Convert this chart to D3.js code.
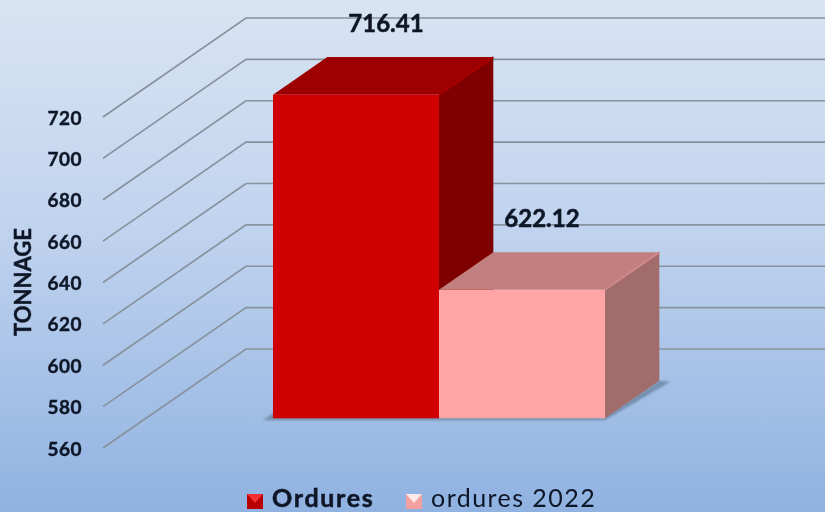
<!DOCTYPE html>
<html>
<head>
<meta charset="utf-8">
<script src="https://cdn.jsdelivr.net/npm/d3@7"></script>
<style>
html, body { margin: 0; padding: 0; overflow: hidden; }
</style>
</head>
<body>
<script>
// data
var seriesNames = ["Ordures", "ordures 2022"];
var seriesValues = [716.41, 622.12];
var tickValues = [560, 580, 600, 620, 640, 660, 680, 700, 720];
var frontColors = ["#d10000", "#ffa5a5"];
var topColors = ["#9d0000", "#c27f7f"];
var sideColors = ["#7f0000", "#a26c6c"];
var edgeColors = ["#a80000", "#d08a8a"];
var legendLight = ["#f23030", "#ffe8e8"];
var legendDark = ["#b80000", "#f4a0a0"];

var width = 825, height = 512;
var inkColor = "#0d1626";

var svg = d3.select("body").append("svg")
    .attr("width", width)
    .attr("height", height)
    .style("display", "block");

var defs = svg.append("defs");

var bg = defs.append("linearGradient").attr("id", "bg")
    .attr("x1", 0).attr("y1", 0).attr("x2", 0).attr("y2", 1);
bg.append("stop").attr("offset", "0%").attr("stop-color", "#d8e4f3");
bg.append("stop").attr("offset", "45%").attr("stop-color", "#c0d3ee");
bg.append("stop").attr("offset", "100%").attr("stop-color", "#90b2e1");

defs.append("filter").attr("id", "soft")
    .append("feGaussianBlur").attr("stdDeviation", 0.5);
defs.append("filter").attr("id", "softText")
    .append("feGaussianBlur").attr("stdDeviation", 0.35);
defs.append("filter").attr("id", "shadowBlur")
    .append("feGaussianBlur").attr("stdDeviation", 1.2);

svg.append("rect")
    .attr("width", width)
    .attr("height", height)
    .attr("fill", "url(#bg)");

// value scale is drawn on the front plane of the walls
var yScale = d3.scaleLinear().domain([560, 720]).range([448, 117]);
var wallDx = 143, wallDy = -99;     // depth of the floor
var wallLeft = 103;

// bars stand on a plane inside the depth
var depthStart = 0.30, depthEnd = 0.68;
var xScale = d3.scaleBand().domain(seriesNames).range([273, 605]).padding(0);

function shiftY(v, depth) { return yScale(v) + wallDy * depth; }
function shiftX(x, depth) { return x + wallDx * (depth - depthStart); }

// gridlines
var plot = svg.append("g").attr("filter", "url(#soft)");

plot.selectAll("path.grid")
    .data(tickValues).enter()
    .append("path")
    .attr("class", "grid")
    .attr("d", function(d) {
        var y = yScale(d);
        return "M" + wallLeft + "," + y + "L" + (wallLeft + wallDx) + "," + (y + wallDy) + "L" + width + "," + (y + wallDy);
    })
    .attr("fill", "none")
    .attr("stroke", "#87929e")
    .attr("stroke-width", 1.7);

// floor shadow under the bars
var x0 = xScale(seriesNames[0]) - 10;
var x1 = xScale(seriesNames[1]) + xScale.bandwidth();
var base = shiftY(560, depthStart);
plot.append("path")
    .attr("d", "M" + x0 + "," + (base + 2) + "L" + x1 + "," + (base + 2) +
        "L" + (x1 + (depthEnd - depthStart) * wallDx + 11) + "," + (base + (depthEnd - depthStart) * wallDy + 1) +
        "L" + (x1 + (depthEnd - depthStart) * wallDx) + "," + (base + (depthEnd - depthStart) * wallDy) +
        "L" + x1 + "," + (base - 2) + "L" + (x0 + 10) + "," + (base - 5) + "Z")
    .attr("fill", "#7690ae")
    .attr("filter", "url(#shadowBlur)");

// bars: top and side first, then the front
function poly(pts) { return pts.map(function(p) { return p.join(","); }).join(" "); }

var bars = plot.selectAll("g.bar")
    .data(seriesValues).enter()
    .append("g")
    .attr("class", "bar");

bars.append("polygon")
    .attr("points", function(d, i) {
        var a = xScale(seriesNames[i]), b = a + xScale.bandwidth();
        return poly([
            [shiftX(a, depthStart), shiftY(d, depthStart)],
            [shiftX(b, depthStart), shiftY(d, depthStart)],
            [shiftX(b, depthEnd), shiftY(d, depthEnd)],
            [shiftX(a, depthEnd), shiftY(d, depthEnd)]
        ]);
    })
    .attr("fill", function(d, i) { return topColors[i]; });

bars.append("polygon")
    .attr("points", function(d, i) {
        var b = xScale(seriesNames[i]) + xScale.bandwidth();
        return poly([
            [shiftX(b, depthStart), shiftY(d, depthStart)],
            [shiftX(b, depthEnd), shiftY(d, depthEnd)],
            [shiftX(b, depthEnd), shiftY(560, depthEnd)],
            [shiftX(b, depthStart), shiftY(560, depthStart)]
        ]);
    })
    .attr("fill", function(d, i) { return sideColors[i]; });

// lighter edge between top and side
bars.append("line")
    .attr("x1", function(d, i) { return shiftX(xScale(seriesNames[i]) + xScale.bandwidth(), depthStart); })
    .attr("y1", function(d) { return shiftY(d, depthStart); })
    .attr("x2", function(d, i) { return shiftX(xScale(seriesNames[i]) + xScale.bandwidth(), depthEnd); })
    .attr("y2", function(d) { return shiftY(d, depthEnd); })
    .attr("stroke", function(d, i) { return edgeColors[i]; })
    .attr("stroke-width", 2);

bars.append("rect")
    .attr("x", function(d, i) { return xScale(seriesNames[i]); })
    .attr("y", function(d) { return shiftY(d, depthStart); })
    .attr("width", xScale.bandwidth())
    .attr("height", function(d) { return shiftY(560, depthStart) - shiftY(d, depthStart); })
    .attr("fill", function(d, i) { return frontColors[i]; });

var textLayer = svg.append("g").attr("filter", "url(#softText)");

// data labels
var labelDx = [30, 20];
textLayer.selectAll("text.value")
    .data(seriesValues).enter()
    .append("text")
    .attr("class", "value")
    .attr("x", function(d, i) { return xScale(seriesNames[i]) + xScale.bandwidth() / 2 + labelDx[i]; })
    .attr("y", function(d) { return shiftY(d, depthEnd) - 25; })
    .attr("text-anchor", "middle")
    .attr("font-family", "Lato")
    .attr("font-weight", "bold")
    .attr("font-size", "24px")
    .attr("stroke", inkColor)
    .attr("stroke-width", 0.5)
    .attr("fill", inkColor)
    .text(function(d) { return d3.format(".2f")(d); });

// tick labels
textLayer.selectAll("text.tick")
    .data(tickValues).enter()
    .append("text")
    .attr("class", "tick")
    .attr("x", 82)
    .attr("y", function(d) { return yScale(d); })
    .attr("dy", "0.4em")
    .attr("text-anchor", "end")
    .attr("font-family", "Lato")
    .attr("font-weight", "bold")
    .attr("font-size", "19px")
    .attr("letter-spacing", "0.5px")
    .attr("stroke", inkColor)
    .attr("stroke-width", 0.4)
    .attr("fill", inkColor)
    .text(function(d) { return d; });

// axis title
textLayer.append("text")
    .attr("transform", "translate(31,282) rotate(-90)")
    .attr("text-anchor", "middle")
    .attr("font-family", "Lato")
    .attr("font-weight", "bold")
    .attr("font-size", "22px")
    .attr("stroke", inkColor)
    .attr("stroke-width", 0.4)
    .attr("fill", inkColor)
    .text("TONNAGE");

// legend
var legendX = [247, 406];
var legendTextX = [272, 431];
var legendWeight = ["bold", "normal"];
var legendSpacing = ["1.7px", "1.45px"];
var legendStroke = [0.5, 0];

svg.selectAll("rect.key")
    .data(seriesNames).enter()
    .append("rect")
    .attr("class", "key")
    .attr("x", function(d, i) { return legendX[i]; })
    .attr("y", 494)
    .attr("width", 16)
    .attr("height", 15)
    .attr("fill", function(d, i) { return legendDark[i]; });

svg.selectAll("polygon.key")
    .data(seriesNames).enter()
    .append("polygon")
    .attr("class", "key")
    .attr("points", function(d, i) {
        var x = legendX[i];
        return poly([[x, 494], [x + 16, 494], [x + 8, 503]]);
    })
    .attr("fill", function(d, i) { return legendLight[i]; });

textLayer.selectAll("text.key")
    .data(seriesNames).enter()
    .append("text")
    .attr("class", "key")
    .attr("x", function(d, i) { return legendTextX[i]; })
    .attr("y", 507)
    .attr("font-family", "Lato")
    .attr("font-weight", function(d, i) { return legendWeight[i]; })
    .attr("font-size", "25px")
    .attr("letter-spacing", function(d, i) { return legendSpacing[i]; })
    .attr("stroke", inkColor)
    .attr("stroke-width", function(d, i) { return legendStroke[i]; })
    .attr("fill", inkColor)
    .text(function(d) { return d; });
</script>
</body>
</html>
